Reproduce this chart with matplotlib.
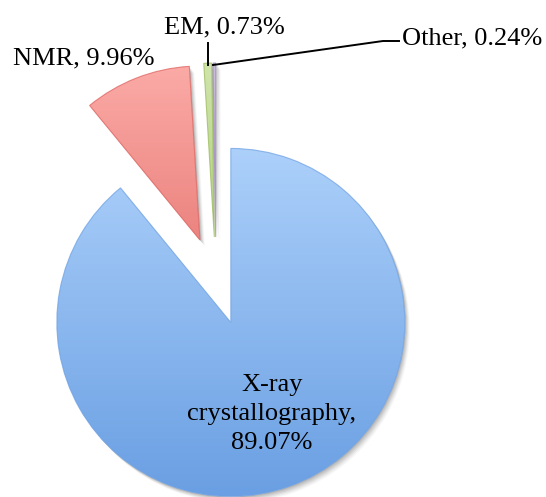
import numpy as np
import matplotlib
matplotlib.use("Agg")
import matplotlib.pyplot as plt
from matplotlib.colors import LinearSegmentedColormap
from matplotlib.patches import Wedge

# Share of structures by experimental method
categories = ["X-ray\ncrystallography", "NMR", "EM", "Other"]
shares = [89.07, 9.96, 0.73, 0.24]

# Light (top) -> dark (bottom) shade for each slice
shades = [("#acd0fa", "#6a9fe3"),
          ("#fbaaa6", "#dc5d59"),
          ("#cfe5ab", "#97b856"),
          ("#c9bcdc", "#9a86b8")]

W, H = 546, 497
fig = plt.figure(figsize=(W / 100, H / 100), dpi=100)
ax = fig.add_axes([0, 0, 1, 1])
ax.axis("off")

cx_px, cy_px, r_px = 216.0, 281.0, 174.0
explode = 44.0 / r_px
serif = ["Liberation Serif", "DejaVu Serif"]

wedges, _ = ax.pie(shares, startangle=90, counterclock=False, radius=1.0,
                   explode=[explode] * len(shares),
                   wedgeprops=dict(linewidth=0, alpha=0))

for w, (c_top, c_bot) in zip(wedges, shades):
    cx, cy = w.center
    r = w.r
    # soft drop shadow
    for k, a in zip(range(6, 0, -1), [0.03, 0.04, 0.05, 0.06, 0.07, 0.08]):
        off = k * 0.006
        sh = Wedge((cx + off * 0.8, cy - off), r, w.theta1, w.theta2,
                   facecolor="#000000", alpha=a, linewidth=0, zorder=1)
        ax.add_patch(sh)
    # vertical gradient fill clipped to the slice
    cmap = LinearSegmentedColormap.from_list("g", [c_bot, c_top])
    grad = np.linspace(0, 1, 256).reshape(-1, 1)
    base = Wedge((cx, cy), r, w.theta1, w.theta2, facecolor="white",
                 edgecolor="none", zorder=2)
    ax.add_patch(base)
    im = ax.imshow(grad, cmap=cmap, origin="lower", aspect="auto",
                   extent=(cx - r, cx + r, cy - r, cy + r), zorder=3,
                   interpolation="bilinear")
    im.set_clip_path(base)
    edge = Wedge((cx, cy), r, w.theta1, w.theta2, facecolor="none",
                 edgecolor=c_bot, linewidth=0.8, alpha=0.7, zorder=4)
    ax.add_patch(edge)

ax.set_aspect("equal")
ax.set_xlim(-cx_px / r_px, (W - cx_px) / r_px)
ax.set_ylim((cy_px - H) / r_px, cy_px / r_px)


def px(x, y):
    return ((x - cx_px) / r_px, (cy_px - y) / r_px)


fs = 19
labels = [f"{c}, {v:.2f}%" for c, v in zip(categories, shares)]
labels[0] = f"{categories[0]},\n{shares[0]:.2f}%"

ax.text(*px(272, 414), labels[0], fontsize=fs, family=serif, ha="center",
        va="center", linespacing=1.4, zorder=6)
ax.text(*px(84, 58), labels[1], fontsize=fs, family=serif, ha="center",
        va="center", zorder=6)
ax.text(*px(224, 27), labels[2], fontsize=fs, family=serif, ha="center",
        va="center", zorder=6)
ax.text(*px(402, 38), labels[3], fontsize=fs, family=serif, ha="left",
        va="center", zorder=6)

# leader lines
x0, y0 = px(208, 43)
x1, y1 = px(208, 65)
ax.plot([x0, x1], [y0, y1], color="black", lw=1.4, zorder=6)
xs, ys = zip(px(213, 65), px(383, 41), px(399, 41))
ax.plot(xs, ys, color="black", lw=1.4, zorder=6)

fig.savefig("out.png", dpi=100)
